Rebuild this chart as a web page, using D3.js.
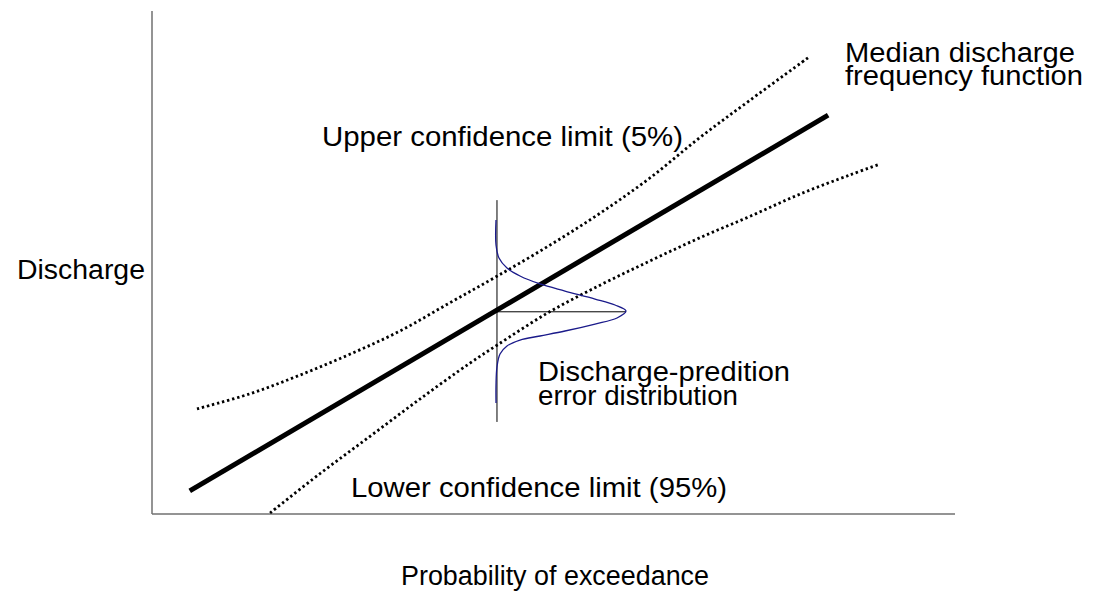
<!DOCTYPE html>
<html>
<head>
<meta charset="utf-8">
<script src="https://cdn.jsdelivr.net/npm/d3@7"></script>
<style>
  html, body { margin: 0; padding: 0; background: #fff; }
  svg { display: block; }
  .label { font-family: "Liberation Sans", Arial, sans-serif; font-size: 27px; fill: #000; }
</style>
</head>
<body>
<div id="chart"></div>
<script>
  const W = 1102;
  const H = 591;

  // conceptual units, 0..100 on both axes
  const medianU = [4.7, 84.2];
  const medianV = [4.6, 79.3];

  const upperU = [5.6, 12.2, 18.4, 24.7, 30.9, 37.1, 43.0, 49.6, 55.8, 62.0, 68.2, 74.5, 81.7];
  const upperV = [20.9, 23.9, 27.6, 31.8, 36.4, 42.0, 47.3, 53.5, 59.8, 66.8, 74.8, 82.3, 90.7];

  const lowerU = [14.7, 20.9, 27.2, 33.4, 39.6, 43.0, 49.3, 55.8, 62.0, 68.2, 74.5, 80.7, 86.9, 90.7];
  const lowerV = [0.2, 8.0, 15.5, 22.9, 30.0, 33.6, 40.0, 45.5, 50.3, 54.9, 59.2, 63.6, 67.4, 69.6];

  // error distribution drawn sideways at one probability
  const errU = [42.84, 42.84, 43.21, 44.21, 45.83, 48.32, 51.43, 55.17, 57.66, 59.03,
                57.91, 55.17, 51.43, 48.32, 45.83, 44.21, 43.34, 42.96, 42.84, 42.84];
  const errV = [58.45, 53.48, 50.89, 48.91, 47.32, 45.73, 44.33, 42.74, 41.55, 40.36,
                38.97, 37.77, 36.38, 35.39, 34.59, 33.40, 31.81, 29.22, 25.65, 22.07];

  const stemU = 42.96;
  const stemV = [18.3, 62.4];
  const peakV = 40.2;
  const peakU = 59.03;

  const svg = d3.select("#chart").append("svg")
    .attr("width", W)
    .attr("height", H);

  const x = d3.scaleLinear().domain([0, 100]).range([152, 955]);
  const y = d3.scaleLinear().domain([0, 100]).range([514, 11]);

  const zip = (us, vs) => us.map((u, i) => [u, vs[i]]);

  const line = d3.line()
    .x((d) => x(d[0]))
    .y((d) => y(d[1]));

  // axes (no ticks)
  svg.append("line")
    .attr("x1", x(0)).attr("y1", y(0))
    .attr("x2", x(0)).attr("y2", y(100))
    .attr("stroke", "#707070").attr("stroke-width", 1.5);
  svg.append("line")
    .attr("x1", x(0)).attr("y1", y(0))
    .attr("x2", x(100)).attr("y2", y(0))
    .attr("stroke", "#707070").attr("stroke-width", 1.5);

  // confidence limits
  const smooth = d3.line().x((d) => x(d[0])).y((d) => y(d[1])).curve(d3.curveCatmullRom);
  [zip(upperU, upperV), zip(lowerU, lowerV)].forEach((pts) => {
    svg.append("path")
      .attr("d", smooth(pts))
      .attr("fill", "none")
      .attr("stroke", "#000")
      .attr("stroke-width", 2.8)
      .attr("stroke-dasharray", "2.4 2.8");
  });

  // median
  svg.append("path")
    .attr("d", line(zip(medianU, medianV)))
    .attr("fill", "none")
    .attr("stroke", "#000")
    .attr("stroke-width", 5);

  // stem and peak line
  svg.append("line")
    .attr("x1", x(stemU)).attr("y1", y(stemV[0]))
    .attr("x2", x(stemU)).attr("y2", y(stemV[1]))
    .attr("stroke", "#000").attr("stroke-width", 1);
  svg.append("line")
    .attr("x1", x(stemU)).attr("y1", y(peakV))
    .attr("x2", x(peakU)).attr("y2", y(peakV))
    .attr("stroke", "#000").attr("stroke-width", 1);

  svg.append("path")
    .attr("d", smooth(zip(errU, errV)))
    .attr("fill", "none")
    .attr("stroke", "#1a1a8a")
    .attr("stroke-width", 1.3);

  // labels: lines of [text, width], x, first baseline, line step
  const labels = [
    [[["Median discharge", 230], ["frequency function", 238]], 845, 62, 23],
    [[["Upper confidence limit (5%)", 361]], 322, 146, 0],
    [[["Discharge", 128]], 17, 279, 0],
    [[["Discharge-predition", 252], ["error distribution", 200]], 538, 381, 24],
    [[["Lower confidence limit (95%)", 376]], 351, 497, 0],
    [[["Probability of exceedance", 308]], 401, 585, 0]
  ];

  labels.forEach(([lines, lx, ly, step]) => {
    const t = svg.append("text")
      .attr("class", "label")
      .attr("x", lx)
      .attr("y", ly);
    lines.forEach(([str, len], i) => {
      t.append("tspan")
        .attr("x", lx)
        .attr("y", ly + i * step)
        .attr("textLength", len)
        .attr("lengthAdjust", "spacingAndGlyphs")
        .text(str);
    });
  });
</script>
</body>
</html>
